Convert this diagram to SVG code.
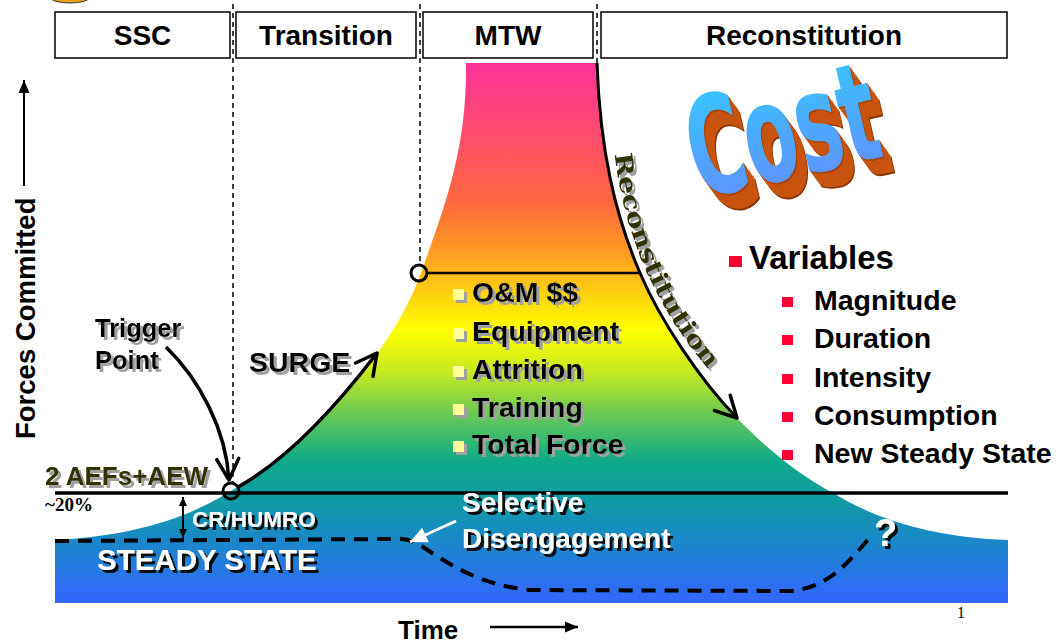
<svg xmlns="http://www.w3.org/2000/svg" width="1061" height="644" viewBox="0 0 1061 644">
<defs>
<style>
.hdr{fill:#fff;stroke:#000;stroke-width:1.5}
.ht{font-family:"Liberation Sans",Arial,sans-serif;font-weight:bold;font-size:28px;text-anchor:middle;fill:#000}
.b{font-family:"Liberation Sans",Arial,sans-serif;font-weight:bold}
.wt{fill:#fff;filter:url(#shD)}
.bt{fill:#000;filter:url(#shL)}
.vd{stroke:#000;stroke-width:1.5;stroke-dasharray:5 4;fill:none}
.rb{fill:#ff0033}
.yb{fill:#ffff99;filter:url(#shL)}
.ln{fill:none;stroke:#000}
.ext{fill:#c85410}
</style>
<linearGradient id="mtn" gradientUnits="userSpaceOnUse" x1="0" y1="63" x2="0" y2="603">
<stop offset="0" stop-color="#ff3399"/>
<stop offset="0.124" stop-color="#ff4a70"/>
<stop offset="0.254" stop-color="#ff6640"/>
<stop offset="0.346" stop-color="#ff9922"/>
<stop offset="0.42" stop-color="#ffcc11"/>
<stop offset="0.494" stop-color="#ffff00"/>
<stop offset="0.57" stop-color="#c8ea20"/>
<stop offset="0.644" stop-color="#70cc50"/>
<stop offset="0.735" stop-color="#10aa88"/>
<stop offset="0.796" stop-color="#0f9ea0"/>
<stop offset="0.883" stop-color="#1a88c8"/>
<stop offset="1" stop-color="#3366ff"/>
</linearGradient>
<linearGradient id="costG" x1="0" y1="0" x2="0" y2="1">
<stop offset="0" stop-color="#33ccff"/>
<stop offset="1" stop-color="#6688ff"/>
</linearGradient>
<filter id="shD" x="-10%" y="-20%" width="130%" height="170%">
<feDropShadow dx="3" dy="3" stdDeviation="0.6" flood-color="#111" flood-opacity="1"/>
</filter>
<filter id="shL" x="-10%" y="-20%" width="130%" height="170%">
<feDropShadow dx="3" dy="3" stdDeviation="0.5" flood-color="#a0a0a0" flood-opacity="1"/>
</filter>
<marker id="vopen" markerUnits="userSpaceOnUse" viewBox="-26 -16 30 32" markerWidth="30" markerHeight="32" refX="0" refY="0" orient="auto">
<path d="M -21 -11 L 0 0 L -21 11" fill="none" stroke="#000" stroke-width="3.5" stroke-linecap="round" stroke-linejoin="round"/>
</marker>
<marker id="tri" markerUnits="userSpaceOnUse" viewBox="-14 -7 16 14" markerWidth="16" markerHeight="14" refX="0" refY="0" orient="auto">
<path d="M -13 -5.5 L 0 0 L -13 5.5 Z" fill="#000"/>
</marker>
<marker id="trs" markerUnits="userSpaceOnUse" viewBox="-10 -5 12 10" markerWidth="12" markerHeight="10" refX="0" refY="0" orient="auto-start-reverse">
<path d="M -9 -4 L 0 0 L -9 4 Z" fill="#000"/>
</marker>
<marker id="wtri" markerUnits="userSpaceOnUse" viewBox="-18 -10 20 20" markerWidth="20" markerHeight="20" refX="0" refY="0" orient="auto">
<path d="M -17 -8 L 0 0 L -17 8 Z" fill="#fff"/>
</marker>
<path id="recP" d="M 614 148 C 622 230, 655 310, 716 378" fill="none"/>
</defs>

<rect width="1061" height="644" fill="#fff"/>
<ellipse cx="70" cy="-3" rx="20" ry="6" fill="#f0a020" stroke="#333" stroke-width="1"/>

<g id="mountain">
<path d="M 55 540 C 150 535, 200 510, 231 491 C 300 450, 390 360, 421 273 C 445 205, 467 150, 466 63 L 597 63 C 600 150, 615 215, 640 273 C 660 320, 700 380, 737 418 C 770 452, 800 475, 833 493 C 880 522, 940 538, 1008 540 L 1008 603 L 55 603 Z" fill="url(#mtn)"/>
</g>

<g id="headers">
<g id="hdr-ssc"><rect class="hdr" x="55" y="12" width="175" height="46"/><text class="ht" x="142.5" y="45">SSC</text></g>
<g id="hdr-transition"><rect class="hdr" x="236" y="12" width="180" height="46"/><text class="ht" x="326" y="45">Transition</text></g>
<g id="hdr-mtw"><rect class="hdr" x="423" y="12" width="170" height="46"/><text class="ht" x="508" y="45">MTW</text></g>
<g id="hdr-recon"><rect class="hdr" x="601" y="12" width="406" height="46"/><text class="ht" x="804" y="45">Reconstitution</text></g>
</g>

<g id="connectors">
<line class="vd" x1="233" y1="4" x2="233" y2="483"/>
<line class="vd" x1="420" y1="4" x2="420" y2="265"/>
<line class="vd" x1="597" y1="4" x2="597" y2="63"/>
<line class="ln" x1="55" y1="493" x2="1008" y2="493" stroke-width="3.5"/>
<line class="ln" x1="427" y1="273" x2="640" y2="273" stroke-width="2.5"/>
<circle cx="231" cy="491" r="8" fill="none" stroke="#000" stroke-width="3"/>
<circle cx="419" cy="273" r="8" fill="none" stroke="#000" stroke-width="3"/>
<path class="ln" d="M 597 63 C 600 150, 615 215, 640 273 C 660 320, 700 380, 737 418" stroke-width="3" marker-end="url(#vopen)"/>
<path class="ln" d="M 238 487 C 295 455, 345 395, 377 353" stroke-width="3.5" marker-end="url(#vopen)"/>
<path class="ln" d="M 166 347 C 200 380, 226 430, 229 480" stroke-width="3.5" marker-end="url(#vopen)"/>
<path class="ln" d="M 55 541 L 392 539 C 402 538, 412 540, 420 545 C 450 565, 480 585, 530 590 L 790 591 C 830 588, 850 560, 872 535" stroke-width="4" stroke-dasharray="14 9"/>
<line x1="456" y1="521" x2="410" y2="542" stroke="#fff" stroke-width="3" marker-end="url(#wtri)"/>
<line x1="183" y1="497" x2="183" y2="538" stroke="#000" stroke-width="2" marker-start="url(#trs)" marker-end="url(#trs)"/>
<line x1="24" y1="186" x2="24" y2="80" stroke="#000" stroke-width="2" marker-end="url(#tri)"/>
<line x1="490" y1="627" x2="578" y2="627" stroke="#000" stroke-width="2.5" marker-end="url(#tri)"/>
</g>

<g id="axis-labels">
<text class="b" font-size="27.5" transform="translate(35,439) rotate(-90)" fill="#000">Forces Committed</text>
<text class="b" font-size="26" x="398" y="639" fill="#000">Time</text>
<text x="957" y="618" font-family="'Liberation Serif',serif" font-size="16" fill="#000">1</text>
</g>

<g id="trigger"><text class="b bt" font-size="25.5"><tspan x="95" y="337">Trigger</tspan><tspan x="95" y="369">Point</tspan></text></g>
<g id="surge"><text class="b bt" font-size="28.5" x="249" y="372">SURGE</text></g>
<g id="aef"><text class="b" font-size="26" x="45" y="485" fill="#333300" filter="url(#shL)">2 AEFs+AEW</text>
<text x="45" y="511" font-family="'Liberation Serif',serif" font-weight="bold" font-size="19" fill="#000">~20%</text></g>
<g id="crhumro"><text class="b wt" font-size="22.5" x="192" y="527">CR/HUMRO</text></g>
<g id="steady"><text class="b wt" font-size="29.5" x="97" y="570">STEADY STATE</text></g>
<g id="selective"><text class="b wt" font-size="28"><tspan x="462" y="512">Selective</tspan><tspan x="462" y="548">Disengagement</tspan></text></g>
<g id="question"><text class="b wt" font-size="38" x="874" y="546">?</text></g>

<g id="cost-items">
<rect class="yb" x="453" y="289" width="11" height="11"/><text class="b bt" font-size="28.5" x="472" y="302">O&amp;M $$</text>
<rect class="yb" x="453" y="328" width="11" height="11"/><text class="b bt" font-size="28.5" x="472" y="341">Equipment</text>
<rect class="yb" x="453" y="366" width="11" height="11"/><text class="b bt" font-size="28.5" x="472" y="379">Attrition</text>
<rect class="yb" x="453" y="404" width="11" height="11"/><text class="b bt" font-size="28.5" x="472" y="417">Training</text>
<rect class="yb" x="453" y="441" width="11" height="11"/><text class="b bt" font-size="28.5" x="472" y="454">Total Force</text>
</g>

<g id="recon-label">
<text font-family="'DejaVu Serif',serif" font-weight="bold" font-size="24" fill="#333300" filter="url(#shL)"><textPath href="#recP" startOffset="6" textLength="238" lengthAdjust="spacingAndGlyphs">Reconstitution</textPath></text>
</g>

<g id="cost-logo" transform="translate(699,199) rotate(-13)">
<g transform="scale(1,1.72)" font-family="'DejaVu Sans Condensed','DejaVu Sans',sans-serif" font-weight="bold" font-size="80">
<text x="8" y="11" fill="#8a3400" textLength="192" lengthAdjust="spacingAndGlyphs">Cost</text>
<text class="ext" x="7.2" y="9.9" textLength="192" lengthAdjust="spacingAndGlyphs">Cost</text>
<text class="ext" x="6.4" y="8.8" textLength="192" lengthAdjust="spacingAndGlyphs">Cost</text>
<text class="ext" x="5.6" y="7.7" textLength="192" lengthAdjust="spacingAndGlyphs">Cost</text>
<text class="ext" x="4.8" y="6.6" textLength="192" lengthAdjust="spacingAndGlyphs">Cost</text>
<text class="ext" x="4" y="5.5" textLength="192" lengthAdjust="spacingAndGlyphs">Cost</text>
<text class="ext" x="3.2" y="4.4" textLength="192" lengthAdjust="spacingAndGlyphs">Cost</text>
<text class="ext" x="2.4" y="3.3" textLength="192" lengthAdjust="spacingAndGlyphs">Cost</text>
<text class="ext" x="1.6" y="2.2" textLength="192" lengthAdjust="spacingAndGlyphs">Cost</text>
<text x="0.8" y="1.1" fill="#a84400" textLength="192" lengthAdjust="spacingAndGlyphs">Cost</text>
<text x="0" y="0" fill="url(#costG)" textLength="192" lengthAdjust="spacingAndGlyphs">Cost</text>
</g>
</g>

<g id="variables">
<rect class="rb" x="729" y="256" width="13" height="11"/><text class="b" font-size="33" x="749" y="269">Variables</text>
<rect class="rb" x="782" y="297" width="11" height="10"/><text class="b" font-size="28.5" x="814" y="310">Magnitude</text>
<rect class="rb" x="782" y="335" width="11" height="10"/><text class="b" font-size="28.5" x="814" y="348">Duration</text>
<rect class="rb" x="782" y="374" width="11" height="10"/><text class="b" font-size="28.5" x="814" y="387">Intensity</text>
<rect class="rb" x="782" y="412" width="11" height="10"/><text class="b" font-size="28.5" x="814" y="425">Consumption</text>
<rect class="rb" x="782" y="450" width="11" height="10"/><text class="b" font-size="28.5" x="814" y="463">New Steady State</text>
</g>
</svg>
